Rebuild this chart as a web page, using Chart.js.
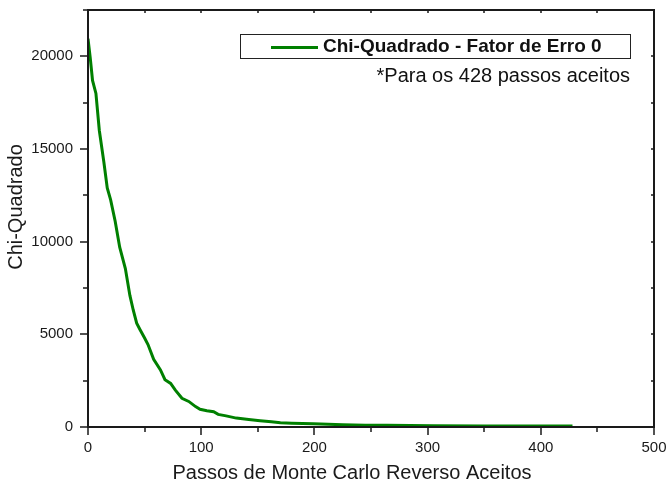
<!DOCTYPE html>
<html>
<head>
<meta charset="utf-8">
<script src="https://cdn.jsdelivr.net/npm/chart.js@4.4.0/dist/chart.umd.min.js"></script>
<style>
  html, body { margin: 0; padding: 0; background: #fff; }
  #wrap { width: 668px; height: 483px; position: relative; }
</style>
</head>
<body>
<div id="wrap"><canvas id="chart" width="668" height="483"></canvas></div>
<script>
// Accepted Reverse Monte Carlo steps and the chi-squared value at each step
const passos = [0, 2, 4, 7, 10, 14, 17, 20, 24, 28, 33, 37, 40, 43, 46, 50, 53, 58, 64, 68, 73, 77, 83, 89, 95, 99, 105, 111, 115, 122, 131, 142, 152, 162, 170, 180, 199, 225, 245, 264, 305, 350, 390, 428];
const chiQuadrado = [20950, 19900, 18700, 18000, 16000, 14300, 12900, 12250, 11100, 9700, 8550, 7100, 6300, 5600, 5250, 4800, 4450, 3650, 3080, 2550, 2350, 2000, 1550, 1380, 1100, 955, 880, 820, 680, 600, 480, 410, 340, 280, 235, 205, 170, 125, 100, 88, 70, 60, 55, 50];

const serieNome = 'Chi-Quadrado - Fator de Erro 0';
const nota = '*Para os 428 passos aceitos';
const tituloX = 'Passos de Monte Carlo Reverso Aceitos';
const tituloY = 'Chi-Quadrado';

const xMin = 0, xMax = 500, xPasso = 50, xRotulo = 100;
const yMin = 0, yMax = 22500, yPasso = 2500, yRotulo = 5000;

const FONT = "'Liberation Sans', Arial, Helvetica, sans-serif";
const INK = '#1a1a1a';
const VERDE = '#008000';

// Frame, tick marks on all four sides, axis titles and the boxed legend
const molduraPlugin = {
  id: 'moldura',
  afterDatasetsDraw(chart) {
    const { ctx, chartArea: a, scales } = chart;
    const sx = scales.x, sy = scales.y;
    ctx.save();
    ctx.strokeStyle = INK;
    ctx.lineCap = 'butt';

    // ticks
    ctx.lineWidth = 1.5;
    for (let v = xMin; v <= xMax; v += xPasso) {
      const px = Math.round(sx.getPixelForValue(v));
      const major = v % xRotulo === 0;
      ctx.beginPath();
      ctx.moveTo(px, a.bottom);
      ctx.lineTo(px, a.bottom + (major ? 8 : 5));
      ctx.moveTo(px, a.top);
      ctx.lineTo(px, a.top + 3);
      ctx.stroke();
    }
    for (let v = yMin; v <= yMax; v += yPasso) {
      const py = Math.round(sy.getPixelForValue(v));
      const major = v % yRotulo === 0;
      ctx.beginPath();
      ctx.moveTo(a.left, py);
      ctx.lineTo(a.left - (major ? 8 : 5), py);
      ctx.moveTo(a.right, py);
      ctx.lineTo(a.right - 3, py);
      ctx.stroke();
    }

    // frame
    ctx.lineWidth = 2;
    ctx.strokeRect(a.left, a.top, a.right - a.left, a.bottom - a.top);

    // axis titles
    ctx.fillStyle = INK;
    ctx.font = '20px ' + FONT;
    ctx.textAlign = 'center';
    ctx.textBaseline = 'middle';
    ctx.fillText(tituloX, 352, 473);
    ctx.save();
    ctx.translate(16, 207);
    ctx.rotate(-Math.PI / 2);
    ctx.fillText(tituloY, 0, 0);
    ctx.restore();

    // legend box
    const ds = chart.data.datasets[0];
    ctx.lineWidth = 1;
    ctx.strokeStyle = '#222';
    ctx.strokeRect(240.5, 34.5, 390, 24);
    ctx.strokeStyle = ds.borderColor;
    ctx.lineWidth = 3;
    ctx.beginPath();
    ctx.moveTo(271, 47.5);
    ctx.lineTo(318, 47.5);
    ctx.stroke();
    ctx.fillStyle = '#111';
    ctx.font = 'bold 19px ' + FONT;
    ctx.textAlign = 'left';
    ctx.fillText(ds.label, 323, 47);

    ctx.font = '20px ' + FONT;
    ctx.textAlign = 'right';
    ctx.fillText(nota, 630, 76);
    ctx.restore();
  }
};

// keep the plot area fixed: no extra room reserved for overhanging tick labels
const semSobra = s => { s.paddingTop = 0; s.paddingBottom = 0; s.paddingLeft = 0; s.paddingRight = 0; };

new Chart(document.getElementById('chart'), {
  type: 'line',
  data: {
    datasets: [{
      label: serieNome,
      data: passos.map((p, i) => ({ x: p, y: chiQuadrado[i] })),
      borderColor: VERDE,
      backgroundColor: VERDE,
      borderWidth: 3,
      pointRadius: 0,
      tension: 0,
      fill: false
    }]
  },
  options: {
    responsive: false,
    animation: false,
    layout: { padding: { top: 10, right: 14, left: 0, bottom: 0 } },
    plugins: { legend: { display: false }, tooltip: { enabled: false } },
    scales: {
      x: {
        type: 'linear',
        min: xMin, max: xMax,
        grid: { display: false, drawTicks: false },
        border: { display: false },
        ticks: {
          stepSize: xPasso,
          padding: 12,
          maxRotation: 0,
          autoSkip: false,
          color: INK,
          font: { family: FONT, size: 15 },
          callback: v => (v % xRotulo === 0 ? String(v) : '')
        },
        afterFit: s => { s.height = 56; semSobra(s); }
      },
      y: {
        type: 'linear',
        min: yMin, max: yMax,
        grid: { display: false, drawTicks: false },
        border: { display: false },
        ticks: {
          stepSize: yPasso,
          padding: 15,
          autoSkip: false,
          color: INK,
          font: { family: FONT, size: 15 },
          callback: v => (v % yRotulo === 0 ? String(v) : '')
        },
        afterFit: s => { s.width = 88; semSobra(s); }
      }
    }
  },
  plugins: [molduraPlugin]
});
</script>
</body>
</html>
